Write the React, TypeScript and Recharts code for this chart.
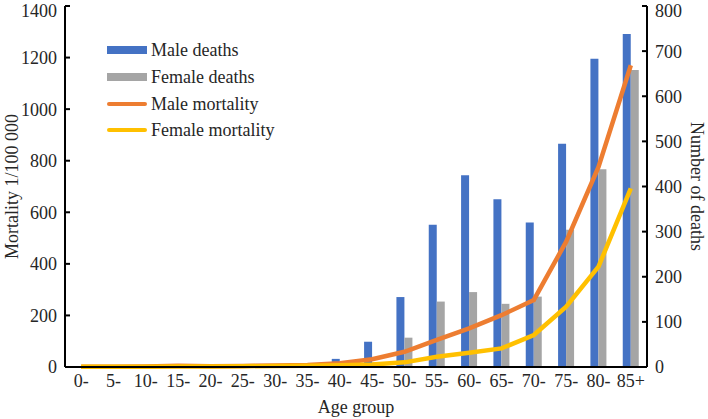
import {
  Bar,
  ComposedChart,
  Line,
  XAxis,
  YAxis,
} from "recharts";

const ageGroups = [
  "0-", "5-", "10-", "15-", "20-", "25-", "30-", "35-", "40-",
  "45-", "50-", "55-", "60-", "65-", "70-", "75-", "80-", "85+",
];
const maleDeaths = [0, 0, 0, 0, 0, 0, 3, 8, 18, 56, 155, 315, 425, 372, 320, 495, 683, 738];
const femaleDeaths = [0, 0, 0, 0, 0, 0, 4, 3, 4, 10, 65, 145, 166, 140, 156, 304, 438, 658];
const maleMortality = [1, 1, 2, 5, 3, 4, 6, 8, 15, 30, 59, 105, 150, 201, 260, 486, 776, 1170];
const femaleMortality = [1, 1, 1, 2, 2, 3, 4, 5, 7, 10, 18, 40, 55, 72, 124, 234, 389, 693];
const leftTicks = [0, 200, 400, 600, 800, 1000, 1200, 1400];
const rightTicks = [0, 100, 200, 300, 400, 500, 600, 700, 800];

const data = ageGroups.map((age, i) => ({
  age,
  maleDeaths: maleDeaths[i],
  femaleDeaths: femaleDeaths[i],
  maleMortality: maleMortality[i],
  femaleMortality: femaleMortality[i],
}));

const FONT = "'Liberation Serif', 'Times New Roman', serif";
const TEXT = "#262626";

const legendItems = [
  { label: "Male deaths", color: "#4472C4", h: 8 },
  { label: "Female deaths", color: "#A5A5A5", h: 8 },
  { label: "Male mortality", color: "#ED7D31", h: 4 },
  { label: "Female mortality", color: "#FFC000", h: 4 },
];

function ChartLegend() {
  return (
    <div
      style={{
        position: "absolute",
        left: 107,
        top: 37,
        fontFamily: FONT,
        fontSize: 18,
        color: TEXT,
        lineHeight: 1,
      }}
    >
      {legendItems.map((it) => (
        <div
          key={it.label}
          style={{ display: "flex", alignItems: "center", height: 26.7 }}
        >
          <div
            style={{
              width: 40,
              height: it.h,
              background: it.color,
              borderRadius: it.h === 4 ? 2 : 0,
              marginRight: 4,
            }}
          />
          <span>{it.label}</span>
        </div>
      ))}
    </div>
  );
}

export default function App() {
  const tickStyle = { fontSize: 18, fill: TEXT, fontFamily: FONT };
  return (
    <div
      style={{
        position: "absolute",
        left: 0,
        top: 0,
        width: 708,
        height: 419,
        background: "#fff",
      }}
    >
      <ComposedChart
        width={708}
        height={419}
        data={data}
        margin={{ top: 6, right: 0, bottom: 0, left: 0 }}
        barGap={0}
        barCategoryGap="25%"
      >
        <XAxis
          dataKey="age"
          height={52}
          tick={tickStyle}
          tickLine={false}
          tickSize={0}
          tickMargin={7}
          interval={0}
          axisLine={{ stroke: "#000", strokeWidth: 2 }}
          label={(props: any) => {
            const vb = props.viewBox;
            return (
              <text
                x={vb.x + vb.width / 2}
                y={413}
                textAnchor="middle"
                fontSize={18}
                fontFamily={FONT}
                fill={TEXT}
              >
                Age group
              </text>
            );
          }}
        />
        <YAxis
          yAxisId="left"
          width={65}
          domain={[0, 1400]}
          ticks={leftTicks}
          tick={tickStyle}
          tickSize={-5}
          tickMargin={13}
          tickLine={{ stroke: "#000", strokeWidth: 2 }}
          axisLine={{ stroke: "#000", strokeWidth: 2 }}
          label={(props: any) => {
            const vb = props.viewBox;
            const cy = vb.y + vb.height / 2;
            return (
              <text
                x={12}
                y={cy}
                transform={`rotate(-90 12 ${cy})`}
                textAnchor="middle"
                dominantBaseline="central"
                fontSize={18}
                fontFamily={FONT}
                fill={TEXT}
              >
                Mortality 1/100 000
              </text>
            );
          }}
        />
        <YAxis
          yAxisId="right"
          orientation="right"
          width={61}
          domain={[0, 800]}
          ticks={rightTicks}
          tick={tickStyle}
          tickSize={-5}
          tickMargin={13}
          tickLine={{ stroke: "#000", strokeWidth: 2 }}
          axisLine={{ stroke: "#000", strokeWidth: 2 }}
          label={(props: any) => {
            const vb = props.viewBox;
            const cy = vb.y + vb.height / 2;
            return (
              <text
                x={697}
                y={cy}
                transform={`rotate(90 697 ${cy})`}
                textAnchor="middle"
                dominantBaseline="central"
                fontSize={18}
                fontFamily={FONT}
                fill={TEXT}
              >
                Number of deaths
              </text>
            );
          }}
        />
        <Bar
          yAxisId="right"
          dataKey="maleDeaths"
          name="Male deaths"
          fill="#4472C4"
          isAnimationActive={false}
        />
        <Bar
          yAxisId="right"
          dataKey="femaleDeaths"
          name="Female deaths"
          fill="#A5A5A5"
          isAnimationActive={false}
        />
        <Line
          yAxisId="left"
          type="linear"
          dataKey="maleMortality"
          name="Male mortality"
          stroke="#ED7D31"
          strokeWidth={4.5}
          dot={false}
          isAnimationActive={false}
        />
        <Line
          yAxisId="left"
          type="linear"
          dataKey="femaleMortality"
          name="Female mortality"
          stroke="#FFC000"
          strokeWidth={4.5}
          dot={false}
          isAnimationActive={false}
        />
      </ComposedChart>
      <ChartLegend />
    </div>
  );
}
